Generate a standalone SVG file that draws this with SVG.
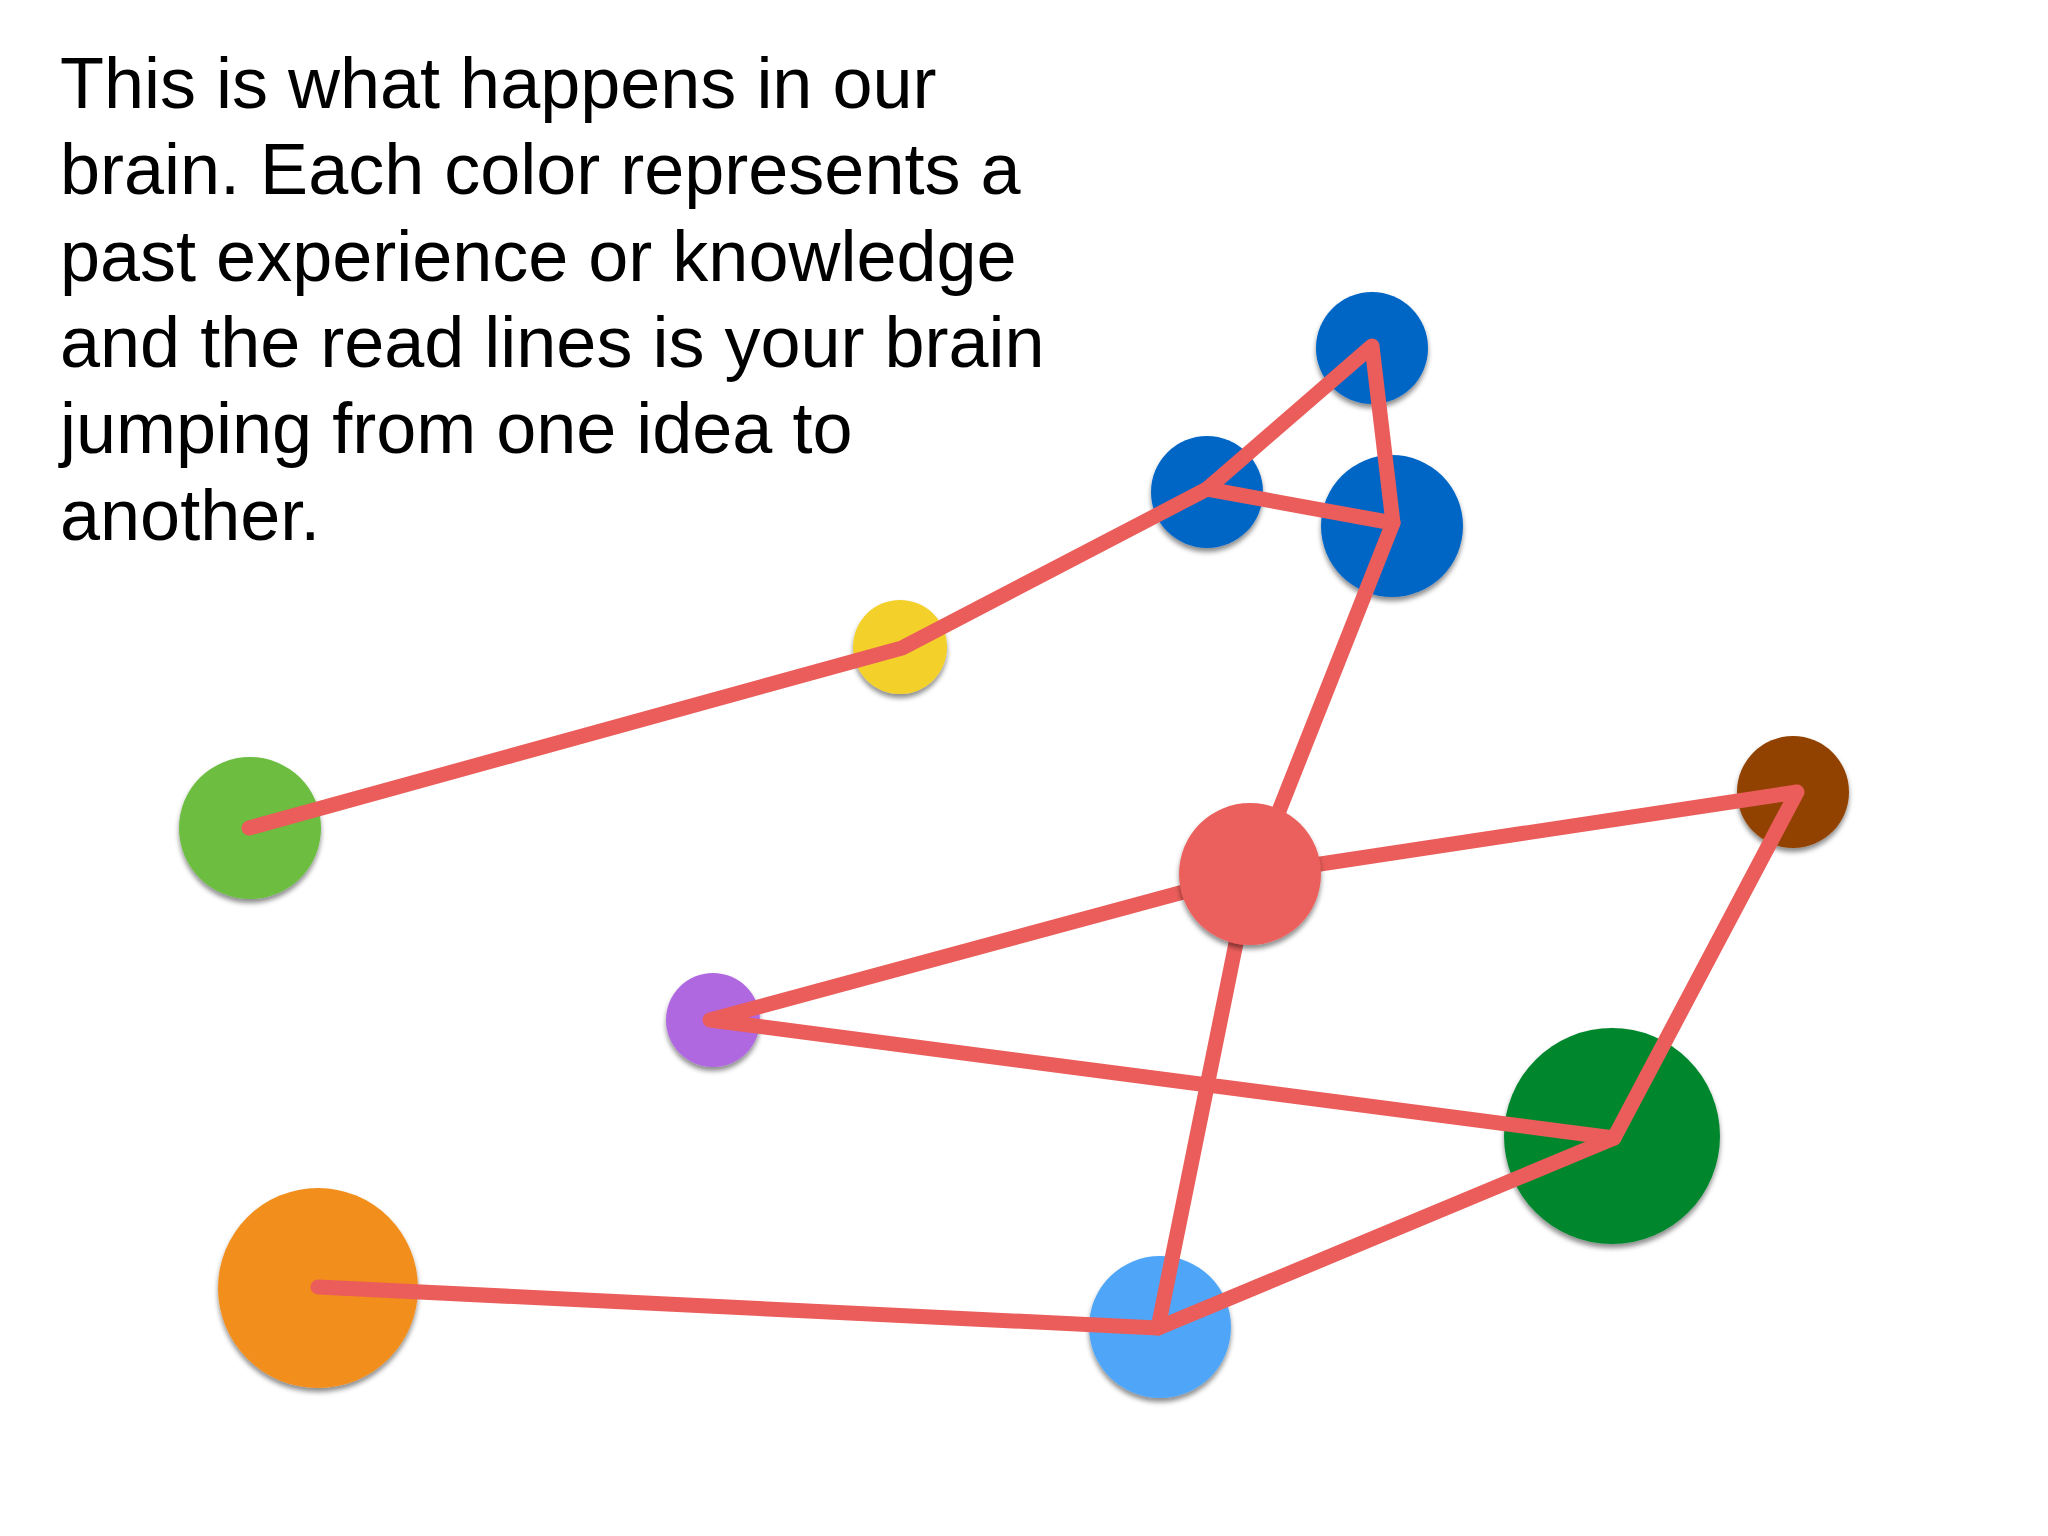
<svg xmlns="http://www.w3.org/2000/svg" width="2048" height="1536" viewBox="0 0 2048 1536">
<defs>
<filter id="sh" x="-20%" y="-20%" width="140%" height="150%">
<feDropShadow dx="0" dy="4" stdDeviation="2.5" flood-color="#000" flood-opacity="0.45"/>
</filter>
<style>
.txt{font-family:"Liberation Sans",Arial,sans-serif;font-size:72px;fill:#000}
.node{filter:url(#sh)}
.ln{stroke:#EA5D5A;stroke-width:15;stroke-linecap:round;stroke-linejoin:round;fill:none}
</style>
</defs>
<rect width="2048" height="1536" fill="#fff"/>
<g id="caption">
<text class="txt" x="60" y="108">This is what happens in our</text>
<text class="txt" x="60" y="194">brain. Each color represents a</text>
<text class="txt" x="60" y="281">past experience or knowledge</text>
<text class="txt" x="60" y="367">and the read lines is your brain</text>
<text class="txt" x="60" y="453">jumping from one idea to</text>
<text class="txt" x="60" y="540">another.</text>
</g>
<g id="node-green" class="node"><circle cx="250" cy="828" r="71" fill="#6CBD40"/></g>
<g id="node-yellow" class="node"><circle cx="900" cy="647" r="47" fill="#F3D12A"/></g>
<g id="node-blue-left" class="node"><circle cx="1207" cy="492" r="56" fill="#0366C6"/></g>
<g id="node-blue-top" class="node"><circle cx="1372" cy="348" r="56" fill="#0366C6"/></g>
<g id="node-blue-right" class="node"><circle cx="1392" cy="526" r="71" fill="#0366C6"/></g>
<g id="node-brown" class="node"><circle cx="1793" cy="792" r="56" fill="#924205"/></g>
<g id="node-purple" class="node"><circle cx="713" cy="1020" r="47" fill="#B068E0"/></g>
<g id="node-darkgreen" class="node"><circle cx="1612" cy="1136" r="108" fill="#05872F"/></g>
<g id="node-orange" class="node"><circle cx="318" cy="1288" r="100" fill="#F28E1C"/></g>
<g id="node-lightblue" class="node"><circle cx="1160" cy="1327" r="71" fill="#4FA6F9"/></g>
<g id="connectors">
<polyline class="ln" points="249,828 902,648 1207,489 1372,346 1393,523 1254,874 1797,792 1614,1138 710,1020 1250,874 1158,1328"/>
<line class="ln" x1="1207" y1="489" x2="1393" y2="523"/>
<polyline class="ln" points="318,1287 1158,1328 1614,1138"/>
</g>
<g id="node-red" class="node"><circle cx="1250" cy="874" r="71" fill="#EB605C"/></g>
</svg>
